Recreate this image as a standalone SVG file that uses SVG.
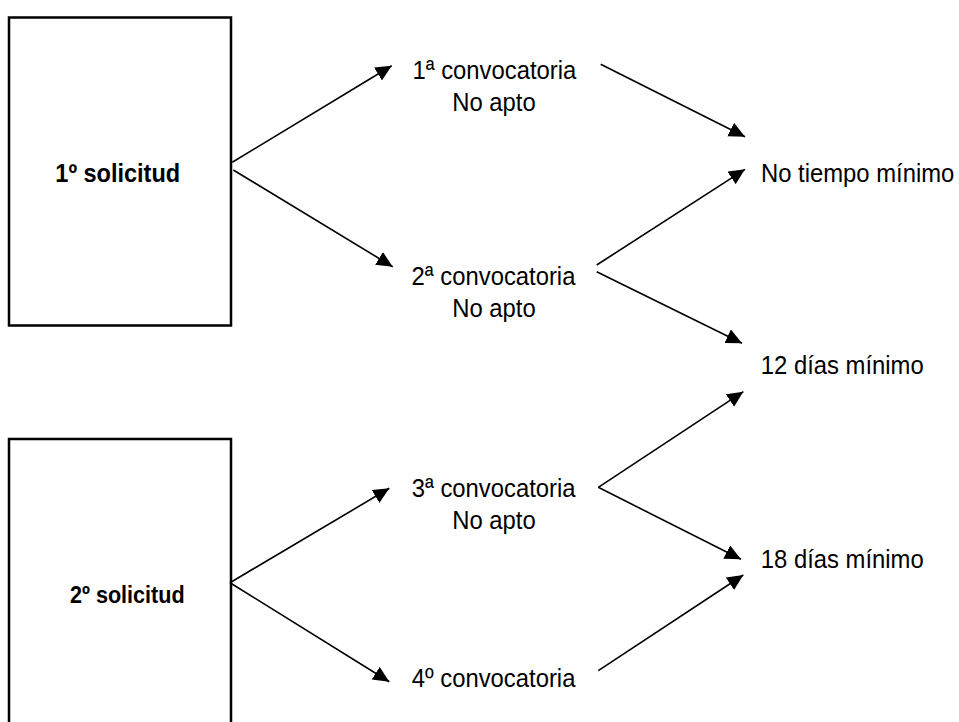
<svg xmlns="http://www.w3.org/2000/svg" width="959" height="722" viewBox="0 0 959 722">
<style>
.box{fill:#fff;stroke:#000;stroke-width:2.5}
.t{font-family:"Liberation Sans",Arial,sans-serif;font-size:26.5px;fill:#000}
.b{font-family:"Liberation Sans",Arial,sans-serif;font-weight:bold;fill:#000}
.c line{stroke:#000;stroke-width:1.6;marker-end:url(#ah)}
</style>
<defs>
<marker id="ah" markerUnits="userSpaceOnUse" markerWidth="18" markerHeight="16" refX="16" refY="7.5" orient="auto">
<path d="M0,0 L16,7.5 L0,15 z" fill="#000"/>
</marker>
</defs>
<rect width="959" height="722" fill="#fff"/>
<g id="sol1">
<rect class="box" x="9" y="17.5" width="222" height="308"/>
<text class="b" font-size="26" transform="translate(55.3,181.7) scale(0.905,1)">1º solicitud</text>
</g>
<g id="sol2">
<rect class="box" x="9" y="439" width="222" height="320"/>
<text class="b" font-size="24" transform="translate(70,603) scale(0.9,1)">2º solicitud</text>
</g>
<g id="conv1">
<text class="t" transform="translate(412.5,79.3) scale(0.9,1)">1ª convocatoria</text>
<text class="t" transform="translate(452.2,111) scale(0.9,1)">No apto</text>
</g>
<g id="conv2">
<text class="t" transform="translate(411.6,285) scale(0.9,1)">2ª convocatoria</text>
<text class="t" transform="translate(452.2,316.7) scale(0.9,1)">No apto</text>
</g>
<g id="conv3">
<text class="t" transform="translate(411.7,497) scale(0.9,1)">3ª convocatoria</text>
<text class="t" transform="translate(452.2,529.3) scale(0.9,1)">No apto</text>
</g>
<g id="conv4">
<text class="t" transform="translate(411.7,686.7) scale(0.9,1)">4º convocatoria</text>
</g>
<g id="res1">
<text class="t" transform="translate(761,181.7) scale(0.9,1)">No tiempo mínimo</text>
</g>
<g id="res2">
<text class="t" transform="translate(760.8,374.3) scale(0.9,1)">12 días mínimo</text>
</g>
<g id="res3">
<text class="t" transform="translate(760.8,568.3) scale(0.9,1)">18 días mínimo</text>
</g>
<g id="connectors" class="c">
<line x1="232.3" y1="162.3" x2="391.7" y2="65.7"/>
<line x1="233.3" y1="170" x2="392.7" y2="266.7"/>
<line x1="600.7" y1="64.3" x2="745" y2="136.7"/>
<line x1="596.7" y1="265" x2="745" y2="169.3"/>
<line x1="596.7" y1="271.7" x2="742" y2="343.3"/>
<line x1="598.3" y1="487.3" x2="743.3" y2="391.7"/>
<line x1="598.3" y1="487.3" x2="741" y2="559.3"/>
<line x1="598.3" y1="670.7" x2="743.3" y2="575"/>
<line x1="230" y1="582.7" x2="389.3" y2="488.3"/>
<line x1="230" y1="582.7" x2="389.3" y2="681.7"/>
</g>
</svg>
